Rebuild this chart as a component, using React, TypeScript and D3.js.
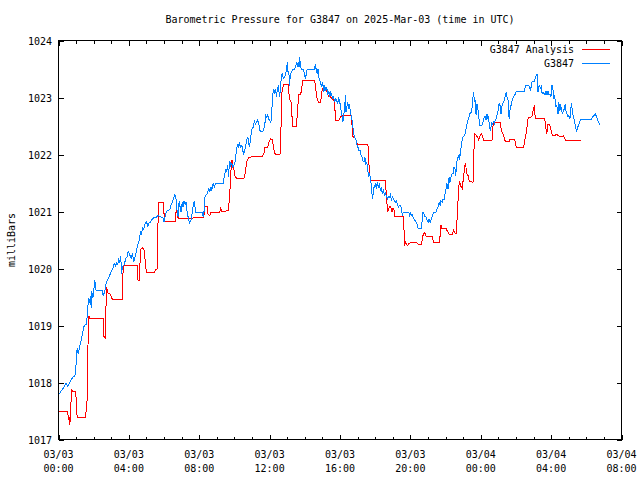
import React from "react";
import * as d3 from "d3";

// Hours after 2025-03-03 00:00 UTC, pressure in mbar
const observed: [number, number][] = [
  [0.04,1017.80],[0.27,1017.90],[0.42,1017.99],[0.53,1017.93],[0.64,1018.00],[0.80,1018.09],[0.93,1018.11],[0.98,1018.22],
  [1.02,1018.46],[1.06,1018.60],[1.12,1018.51],[1.17,1018.57],[1.25,1018.69],[1.36,1018.84],[1.44,1018.98],[1.52,1019.01],
  [1.59,1019.01],[1.67,1019.33],[1.72,1019.48],[1.78,1019.39],[1.82,1019.51],[1.86,1019.30],[1.89,1019.60],[1.95,1019.48],
  [2.01,1019.63],[2.06,1019.80],[2.12,1019.63],[2.20,1019.61],[2.35,1019.61],[2.50,1019.61],[2.54,1019.52],[2.63,1019.60],
  [2.69,1019.71],[2.77,1019.80],[2.84,1019.83],[2.92,1019.89],[3.01,1019.95],[3.11,1020.01],[3.14,1020.06],[3.20,1020.09],
  [3.26,1020.04],[3.30,1020.12],[3.37,1020.06],[3.41,1020.18],[3.48,1020.12],[3.54,1020.21],[3.58,1019.91],[3.64,1020.04],
  [3.73,1020.06],[3.77,1020.11],[3.83,1020.18],[3.90,1020.21],[3.96,1020.30],[4.05,1020.24],[4.13,1020.18],[4.20,1020.27],
  [4.28,1020.12],[4.36,1020.21],[4.43,1020.30],[4.49,1020.42],[4.55,1020.44],[4.62,1020.56],[4.66,1020.65],[4.72,1020.59],
  [4.77,1020.71],[4.85,1020.69],[4.91,1020.77],[5.00,1020.82],[5.08,1020.74],[5.15,1020.80],[5.23,1020.81],[5.28,1020.85],
  [5.38,1020.88],[5.47,1020.90],[5.57,1020.90],[5.66,1020.94],[5.76,1020.91],[5.85,1020.90],[5.95,1020.88],[6.00,1020.82],
  [6.06,1020.91],[6.14,1021.00],[6.23,1021.02],[6.33,1021.03],
  [6.36,1021.08],[6.46,1021.16],[6.55,1021.25],[6.61,1021.29],[6.67,1021.25],[6.74,1021.02],[6.80,1020.90],[6.86,1021.19],
  [6.91,1021.08],[6.97,1020.99],[7.03,1021.16],[7.08,1021.08],[7.14,1021.19],[7.20,1021.13],[7.25,1021.16],[7.31,1020.99],
  [7.39,1020.87],[7.44,1020.80],[7.50,1020.84],[7.56,1020.87],[7.61,1021.02],[7.67,1021.13],[7.73,1021.19],[7.78,1020.99],
  [7.88,1020.99],[8.07,1020.99],[8.18,1020.99],[8.22,1020.90],[8.28,1021.02],[8.31,1021.25],[8.37,1021.28],[8.45,1021.31],
  [8.54,1021.40],[8.60,1021.34],[8.66,1021.43],[8.71,1021.37],[8.79,1021.49],[8.86,1021.43],[8.92,1021.50],[9.02,1021.50],
  [9.20,1021.50],[9.36,1021.50],[9.39,1021.57],[9.45,1021.65],[9.51,1021.75],[9.56,1021.69],[9.62,1021.81],[9.66,1021.61],
  [9.70,1021.78],[9.73,1021.89],[9.79,1021.81],[9.85,1021.84],[9.91,1021.78],[9.96,1021.81],[10.02,1021.84],[10.08,1021.98],
  [10.13,1022.10],[10.19,1022.19],[10.25,1022.13],[10.30,1022.19],[10.36,1022.13],[10.42,1022.16],[10.47,1022.07],[10.53,1022.01],
  [10.59,1022.07],[10.64,1022.16],[10.70,1022.25],[10.76,1022.31],[10.80,1022.22],[10.85,1022.13],[10.91,1022.25],[10.97,1022.42],
  [11.02,1022.47],[11.08,1022.48],[11.14,1022.60],[11.19,1022.53],[11.25,1022.57],[11.31,1022.60],[11.38,1022.55],[11.44,1022.42],
  [11.53,1022.40],[11.61,1022.40],[11.67,1022.45],[11.72,1022.51],[11.78,1022.68],[11.84,1022.65],[11.89,1022.71],[11.95,1022.62],
  [12.01,1022.60],[12.07,1022.55],[12.12,1022.74],[12.16,1022.98],[12.22,1023.15],[12.27,1023.09],[12.33,1023.15],[12.39,1023.01],
  [12.44,1023.14],[12.50,1023.21],[12.56,1023.01],[12.61,1023.12],[12.67,1023.39],[12.73,1023.42],[12.78,1023.33],[12.84,1023.36],
  [12.90,1023.39],[12.95,1023.47],[13.01,1023.62],[13.05,1023.42],[13.09,1023.47],[13.13,1023.21],[13.18,1023.42],[13.24,1023.44],
  [13.30,1023.50],[13.35,1023.50],[13.43,1023.50],[13.49,1023.56],[13.52,1023.60],[13.58,1023.56],[13.62,1023.62],[13.67,1023.54],
  [13.71,1023.71],[13.75,1023.53],[13.81,1023.50],[13.86,1023.50],[13.92,1023.49],[13.98,1023.42],[14.03,1023.33],[14.07,1023.39],
  [14.13,1023.50],[14.22,1023.50],[14.41,1023.50],[14.56,1023.50],[14.60,1023.59],[14.64,1023.50],[14.70,1023.42],[14.75,1023.50],
  [14.79,1023.36],[14.85,1023.30],[14.91,1023.24],[14.96,1023.18],[15.02,1023.27],[15.08,1023.09],[15.13,1023.21],[15.19,1023.12],
  [15.25,1023.18],[15.30,1023.04],[15.36,1023.12],[15.42,1023.01],[15.47,1023.09],[15.53,1023.04],[15.59,1022.98],[15.64,1023.01],
  [15.70,1022.92],[15.76,1022.98],[15.81,1022.95],[15.87,1022.89],[15.93,1023.00],[15.99,1022.92],[16.04,1022.80],[16.10,1022.71],
  [16.16,1022.57],[16.21,1022.68],[16.27,1022.86],[16.31,1023.04],[16.34,1022.74],[16.40,1022.86],[16.44,1022.92],[16.50,1022.80],
  [16.53,1022.89],[16.59,1022.74],[16.65,1022.65],[16.69,1022.60],[16.72,1022.51],[16.76,1022.42],[16.80,1022.33],[16.86,1022.29],
  [16.91,1022.25],[16.97,1022.16],[17.03,1022.12],[17.08,1022.07],[17.14,1022.07],[17.20,1021.98],[17.25,1021.96],[17.31,1021.89],
  [17.37,1021.87],[17.42,1021.95],[17.46,1021.81],[17.52,1021.87],[17.58,1021.72],[17.63,1021.63],[17.69,1021.66],[17.75,1021.54],
  [17.78,1021.43],[17.82,1021.31],[17.86,1021.22],[17.90,1021.40],[17.95,1021.43],[18.01,1021.49],[18.07,1021.40],[18.12,1021.51],
  [18.18,1021.43],[18.24,1021.49],[18.29,1021.37],[18.35,1021.40],[18.41,1021.31],[18.47,1021.40],[18.52,1021.28],[18.58,1021.34],
  [18.64,1021.25],[18.69,1021.22],[18.75,1021.26],[18.81,1021.25],[18.86,1021.29],[18.92,1021.20],[18.98,1021.25],[19.03,1021.22],
  [19.09,1021.19],[19.15,1021.16],[19.20,1021.19],[19.26,1021.13],[19.32,1021.08],[19.37,1021.11],
  [19.43,1021.11],[19.49,1021.05],[19.55,1020.93],[19.60,1020.99],[19.66,1020.99],[19.72,1020.99],[19.81,1020.99],[19.91,1020.99],
  [19.96,1020.90],[20.00,1020.99],[20.04,1020.93],[20.09,1020.96],[20.15,1020.90],[20.21,1020.87],[20.27,1020.84],[20.32,1020.81],
  [20.38,1020.78],[20.44,1020.70],[20.49,1020.70],[20.57,1020.70],[20.64,1020.70],[20.68,1020.90],[20.72,1020.99],[20.78,1020.95],
  [20.83,1020.91],[20.89,1020.90],[20.95,1020.85],[21.01,1020.81],[21.06,1020.87],[21.12,1020.81],[21.17,1020.85],[21.23,1020.90],
  [21.29,1020.96],[21.34,1020.99],[21.40,1020.99],[21.46,1020.99],[21.52,1021.05],[21.57,1021.08],[21.63,1021.16],[21.69,1021.11],
  [21.74,1021.19],[21.80,1021.16],[21.86,1021.22],[21.91,1021.20],[21.97,1021.31],[22.03,1021.40],[22.08,1021.49],[22.14,1021.40],
  [22.20,1021.60],[22.25,1021.51],[22.31,1021.60],[22.37,1021.66],[22.42,1021.66],[22.48,1021.78],[22.54,1021.75],[22.58,1021.63],
  [22.61,1021.78],[22.65,1021.89],[22.71,1021.95],[22.77,1022.00],[22.80,1021.91],[22.86,1022.07],[22.92,1022.22],[22.97,1022.30],
  [23.03,1022.32],[23.09,1022.33],[23.14,1022.42],[23.20,1022.51],[23.26,1022.60],[23.31,1022.63],[23.37,1022.71],[23.43,1022.73],
  [23.48,1022.73],[23.52,1022.86],[23.56,1023.01],[23.60,1023.09],[23.64,1022.92],[23.67,1022.98],[23.71,1022.73],[23.75,1022.71],
  [23.79,1022.89],[23.85,1022.77],[23.90,1022.63],[23.94,1022.51],[24.02,1022.51],[24.07,1022.51],[24.13,1022.57],[24.19,1022.65],
  [24.24,1022.68],[24.30,1022.60],[24.36,1022.71],[24.39,1022.65],[24.43,1022.68],[24.47,1022.57],[24.51,1022.48],[24.55,1022.42],
  [24.58,1022.48],[24.62,1022.57],[24.66,1022.53],[24.72,1022.57],[24.77,1022.54],[24.83,1022.60],[24.89,1022.63],[24.95,1022.74],
  [25.00,1022.77],[25.04,1022.89],[25.08,1022.89],[25.11,1022.83],[25.15,1022.71],[25.19,1022.83],[25.25,1022.89],[25.30,1022.92],
  [25.36,1022.98],[25.42,1023.06],[25.45,1023.09],[25.49,1023.01],[25.55,1022.95],[25.59,1022.68],[25.62,1022.63],[25.66,1022.77],
  [25.70,1022.83],[25.76,1022.92],[25.81,1022.98],[25.87,1023.01],[25.93,1023.06],
  [25.97,1023.06],[26.02,1023.11],[26.16,1023.11],[26.34,1023.11],[26.50,1023.11],[26.53,1023.20],[26.63,1023.21],[26.76,1023.20],
  [26.82,1023.12],[26.88,1023.21],[26.91,1023.27],[26.97,1023.28],[27.03,1023.27],[27.08,1023.32],[27.14,1023.37],[27.20,1023.42],
  [27.23,1023.27],[27.25,1023.09],[27.29,1023.20],[27.35,1023.21],[27.41,1023.15],[27.44,1023.22],[27.48,1023.09],[27.54,1023.06],
  [27.59,1023.09],[27.65,1023.04],[27.71,1023.12],[27.76,1023.04],[27.82,1023.11],[27.88,1023.04],[27.93,1023.06],[27.99,1023.01],
  [28.05,1023.21],[28.11,1023.12],[28.15,1022.98],[28.20,1023.04],[28.24,1022.92],[28.28,1022.83],[28.32,1022.86],[28.35,1022.80],
  [28.39,1022.71],[28.43,1022.92],[28.47,1022.83],[28.50,1022.77],[28.54,1022.89],[28.58,1022.80],[28.64,1022.71],[28.69,1022.77],
  [28.75,1022.80],[28.81,1022.89],[28.84,1022.77],[28.90,1022.71],[28.95,1022.67],[29.01,1022.68],[29.07,1022.63],[29.11,1022.77],
  [29.15,1022.90],[29.19,1022.81],[29.22,1022.71],[29.28,1022.65],[29.34,1022.57],[29.39,1022.48],[29.45,1022.40],[29.51,1022.48],
  [29.56,1022.51],[29.62,1022.57],[29.68,1022.61],[29.75,1022.61],[29.94,1022.61],[30.13,1022.61],[30.28,1022.61],[30.34,1022.65],
  [30.40,1022.67],[30.45,1022.69],[30.51,1022.71],[30.57,1022.67],[30.63,1022.62],[30.68,1022.58],[30.74,1022.54],[30.78,1022.51],
];

const analysis: [number, number][] = [
  [0.04,1017.50],[0.49,1017.50],[0.53,1017.46],[0.57,1017.35],[0.61,1017.40],[0.64,1017.26],[0.68,1017.40],[0.72,1017.73],
  [0.76,1017.88],[0.80,1017.84],[0.98,1017.84],[1.02,1017.58],[1.06,1017.39],[1.52,1017.39],[1.55,1017.43],[1.63,1017.70],
  [1.67,1018.51],[1.70,1019.15],[1.74,1019.16],[1.78,1019.12],[2.54,1019.12],[2.58,1018.81],[2.67,1018.78],[2.69,1019.22],
  [2.73,1019.67],[2.80,1019.57],[2.92,1019.56],[3.01,1019.50],[3.07,1019.45],[3.62,1019.45],[3.66,1019.89],[3.71,1020.06],
  [4.47,1020.06],[4.51,1019.80],[4.58,1019.79],[4.62,1020.04],[4.68,1020.34],[4.77,1020.36],[4.85,1020.34],[4.91,1020.21],
  [4.94,1020.06],[5.00,1019.93],[5.47,1019.93],[5.51,1019.98],[5.61,1019.99],[5.64,1020.56],[5.68,1021.15],[5.95,1021.15],
  [5.98,1021.02],[6.04,1020.83],[6.36,1020.82],[6.63,1020.82],[6.67,1020.96],[6.70,1021.05],[6.78,1020.90],[6.86,1020.87],
  [7.61,1020.87],[7.67,1020.90],[8.26,1020.90],[8.31,1021.08],[8.45,1021.08],[8.50,1020.96],[8.60,1020.92],[8.67,1020.99],
  [9.17,1020.99],[9.22,1021.05],[9.30,1020.99],[9.66,1021.02],[9.70,1021.19],[9.77,1021.49],[9.83,1021.89],[9.89,1021.89],
  [9.92,1021.81],[9.98,1021.72],[10.04,1021.61],[10.15,1021.58],[10.53,1021.58],[10.59,1021.63],[10.64,1021.75],[10.72,1021.89],
  [10.81,1021.94],[11.00,1021.96],[11.57,1021.96],[11.67,1022.01],[11.74,1022.13],[11.89,1022.13],[11.97,1022.22],[12.05,1022.28],
  [12.16,1022.26],[12.22,1022.13],[12.27,1022.04],[12.33,1022.00],[12.61,1022.01],[12.65,1022.51],[12.69,1023.06],[12.73,1023.15],
  [12.80,1023.22],[13.05,1023.22],[13.09,1023.09],[13.16,1022.95],[13.22,1022.92],[13.28,1022.63],[13.31,1022.49],[13.50,1022.49],
  [13.56,1022.65],[13.62,1022.92],[13.67,1023.06],[13.77,1023.06],[13.83,1023.18],[13.88,1023.29],[14.56,1023.29],[14.60,1023.21],
  [14.66,1023.06],[14.72,1022.95],[14.77,1022.92],[14.91,1022.92],[14.94,1023.06],[15.00,1023.15],[15.08,1023.17],[15.13,1023.13],
  [15.19,1023.15],[15.25,1023.12],[15.30,1023.05],[15.36,1023.02],[15.45,1023.01],[15.55,1022.98],[15.64,1022.96],[15.70,1022.89],
  [15.74,1022.60],[15.78,1022.59],[15.93,1022.59],[15.99,1022.63],[16.04,1022.67],[16.12,1022.68],[16.65,1022.68],[16.69,1022.48],
  [16.72,1022.32],[16.80,1022.30],[16.88,1022.28],[16.95,1022.23],[16.99,1022.18],[17.07,1022.17],[17.59,1022.17],[17.63,1021.89],
  [17.69,1021.66],[17.75,1021.54],[18.58,1021.54],[18.62,1021.36],[18.67,1021.13],[18.71,1021.00],[18.77,1021.05],[18.83,1021.08],
  [18.88,1021.08],[18.92,1021.05],[18.96,1020.99],[19.01,1021.06],[19.07,1021.02],[19.11,1020.91],[19.60,1020.91],[19.64,1020.67],
  [19.67,1020.40],[19.72,1020.46],[19.77,1020.43],[19.83,1020.40],[19.89,1020.43],[19.96,1020.44],[20.04,1020.46],[20.34,1020.46],
  [20.42,1020.43],[20.64,1020.42],[20.68,1020.55],[20.76,1020.61],[20.82,1020.64],[20.85,1020.58],[20.91,1020.57],[21.23,1020.57],
  [21.29,1020.49],[21.33,1020.46],[21.67,1020.46],[21.70,1020.67],[21.74,1020.77],[21.80,1020.70],[22.05,1020.70],[22.08,1020.67],
  [22.14,1020.64],[22.20,1020.60],[22.37,1020.60],[22.42,1020.64],[22.46,1020.67],[22.54,1020.62],[22.61,1020.61],[22.65,1020.84],
  [22.69,1021.08],[22.73,1021.31],[22.77,1021.49],[22.80,1021.54],[22.84,1021.46],[22.90,1021.43],[22.95,1021.40],[22.99,1021.52],
  [23.03,1021.63],[23.07,1021.72],[23.11,1021.82],[23.14,1021.84],[23.18,1021.72],[23.22,1021.66],[23.28,1021.63],[23.31,1021.57],
  [23.37,1021.53],[23.56,1021.51],[23.60,1021.89],[23.64,1022.37],[23.67,1022.36],[23.75,1022.33],[23.83,1022.30],[23.88,1022.26],
  [23.94,1022.32],[23.98,1022.33],[24.05,1022.37],[24.11,1022.30],[24.17,1022.25],[24.64,1022.25],[24.68,1022.48],[24.72,1022.54],
  [24.77,1022.57],[25.11,1022.57],[25.17,1022.42],[25.23,1022.39],[25.30,1022.33],[25.36,1022.26],[25.40,1022.23],[25.61,1022.23],
  [25.64,1022.26],[25.70,1022.27],[25.93,1022.27],[25.97,1022.19],[26.02,1022.13],[26.44,1022.13],[26.50,1022.25],[26.53,1022.30],
  [26.59,1022.39],[26.63,1022.48],[26.67,1022.57],[26.70,1022.65],[26.82,1022.65],[26.91,1022.67],[26.95,1022.73],[27.01,1022.81],
  [27.05,1022.86],[27.07,1022.75],[27.10,1022.64],[27.63,1022.64],[27.67,1022.54],[27.71,1022.44],[27.75,1022.36],[27.78,1022.44],
  [27.82,1022.52],[27.92,1022.52],[27.95,1022.48],[27.99,1022.44],[28.05,1022.36],[28.09,1022.33],[28.24,1022.34],[28.33,1022.36],
  [28.39,1022.33],[28.52,1022.31],[28.62,1022.31],[28.71,1022.33],[28.75,1022.30],[28.81,1022.25],[29.70,1022.25],
];

const yTicks = [1017, 1018, 1019, 1020, 1021, 1022, 1023, 1024];
const seriesNames = ["G3847 Analysis", "G3847"];
const seriesColors = ["#ff0000", "#0080ff"];
const titleText = "Barometric Pressure for G3847 on 2025-Mar-03 (time in UTC)";
const yLabel = "milliBars";

const base = Date.UTC(2025, 2, 3, 0, 0);
const toDate = (h: number) => new Date(base + h * 3600000);

export default function App() {
  const W = 640, H = 480;
  const left = 58.5, right = 621.5, top = 40.5, bottom = 439.5;
  const font = "'DejaVu Sans Mono', monospace";

  const x = d3.scaleUtc().domain([new Date(base), toDate(32)]).range([left, right]);
  const y = d3.scaleLinear().domain([1017, 1024]).range([bottom, top]);

  const line = d3.line<[number, number]>()
    .x((d) => x(toDate(d[0])))
    .y((d) => y(d[1]));

  const majorTicks = x.ticks(d3.utcHour.every(4)!);
  const minorTicks = x.ticks(d3.utcHour.every(1)!);
  const fmtDate = d3.utcFormat("%m/%d");
  const fmtTime = d3.utcFormat("%H:%M");

  const major = 5, minor = 3;

  return (
    <svg width={W} height={H} style={{ position: "absolute", left: 0, top: 0, background: "#fff" }}
      fontFamily={font} fontSize={10}>
      <rect x={0} y={0} width={W} height={H} fill="#fff" />
      <text x={(left + right) / 2} y={23} textAnchor="middle">{titleText}</text>
      <text transform={`translate(12,${(top + bottom) / 2}) rotate(-90)`} textAnchor="middle" dominantBaseline="middle">{yLabel}</text>

      <g stroke="#000" strokeWidth={1} shapeRendering="crispEdges">
        {yTicks.map((t) => (
          <g key={"y" + t}>
            <line x1={left} x2={left + major} y1={Math.round(y(t)) + 0.5} y2={Math.round(y(t)) + 0.5} />
            <line x1={right} x2={right - major} y1={Math.round(y(t)) + 0.5} y2={Math.round(y(t)) + 0.5} />
          </g>
        ))}
        {minorTicks.map((t, i) => {
          const isMajor = t.getUTCHours() % 4 === 0;
          const len = isMajor ? major : minor;
          const xx = Math.round(x(t)) + 0.5;
          return (
            <g key={"x" + i}>
              <line x1={xx} x2={xx} y1={bottom} y2={bottom - len} />
              <line x1={xx} x2={xx} y1={top} y2={top + len} />
            </g>
          );
        })}
        <rect x={left} y={top} width={right - left} height={bottom - top} fill="none" />
      </g>

      {yTicks.map((t) => (
        <text key={"yl" + t} x={52} y={y(t) + 4} textAnchor="end">{t}</text>
      ))}
      {majorTicks.map((t, i) => (
        <g key={"xl" + i}>
          <text x={x(t)} y={458} textAnchor="middle">{fmtDate(t)}</text>
          <text x={x(t)} y={472} textAnchor="middle">{fmtTime(t)}</text>
        </g>
      ))}

      <path d={line(analysis) || ""} fill="none" stroke={seriesColors[0]} strokeWidth={1} shapeRendering="crispEdges" />
      <path d={line(observed) || ""} fill="none" stroke={seriesColors[1]} strokeWidth={1} shapeRendering="crispEdges" />

      {seriesNames.map((name, i) => (
        <g key={name}>
          <text x={574} y={53 + i * 14} textAnchor="end">{name}</text>
          <rect x={582} y={49 + i * 14} width={28} height={1} fill={seriesColors[i]} />
        </g>
      ))}
    </svg>
  );
}
